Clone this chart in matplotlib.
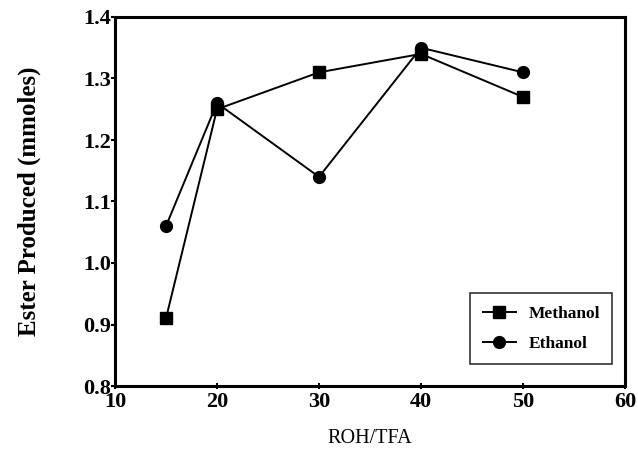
import matplotlib.pyplot as plt

ratio = [15, 20, 30, 40, 50]
methanol = [0.91, 1.25, 1.31, 1.34, 1.27]
ethanol = [1.06, 1.26, 1.14, 1.35, 1.31]

plt.rcParams['font.family'] = ['Liberation Serif', 'DejaVu Serif']

fig = plt.figure(figsize=(6.38, 4.53), dpi=100)
ax = fig.add_axes([115 / 638, 1 - 386 / 453, 510 / 638, 369 / 453])

ax.plot(ratio, methanol, 'k-', marker='s', markersize=8.5, linewidth=1.4, label='Methanol')
ax.plot(ratio, ethanol, 'k-', marker='o', markersize=8.5, linewidth=1.4, label='Ethanol')

ax.set_xlim(10, 60)
ax.set_ylim(0.8, 1.4)
ax.set_xticks([10, 20, 30, 40, 50, 60])
ax.set_yticks([0.8, 0.9, 1.0, 1.1, 1.2, 1.3, 1.4])
ax.set_yticklabels(['0.8', '0.9', '1.0', '1.1', '1.2', '1.3', '1.4'])
for s in ax.spines.values():
    s.set_linewidth(2.2)
ax.tick_params(axis='y', direction='out', length=3, width=1.5, pad=0, labelsize=16)
ax.tick_params(axis='x', direction='inout', length=5, width=1.5, pad=2, labelsize=16)
for lab in ax.get_xticklabels() + ax.get_yticklabels():
    lab.set_fontweight('bold')

ax.set_xlabel('ROH/TFA', fontsize=14.5, labelpad=12)
ax.set_ylabel('Ester Produced (mmoles)', fontsize=18, fontweight='bold', labelpad=30)

leg = ax.legend(loc='lower right', bbox_to_anchor=(0.975, 0.06), frameon=True, fancybox=False,
                edgecolor='black', prop={'weight': 'bold', 'size': 12.5}, handlelength=1.9,
                handletextpad=0.75, borderpad=0.7, labelspacing=0.8, borderaxespad=0)
leg.get_frame().set_linewidth(1.2)

plt.savefig('out.png', dpi=100)
